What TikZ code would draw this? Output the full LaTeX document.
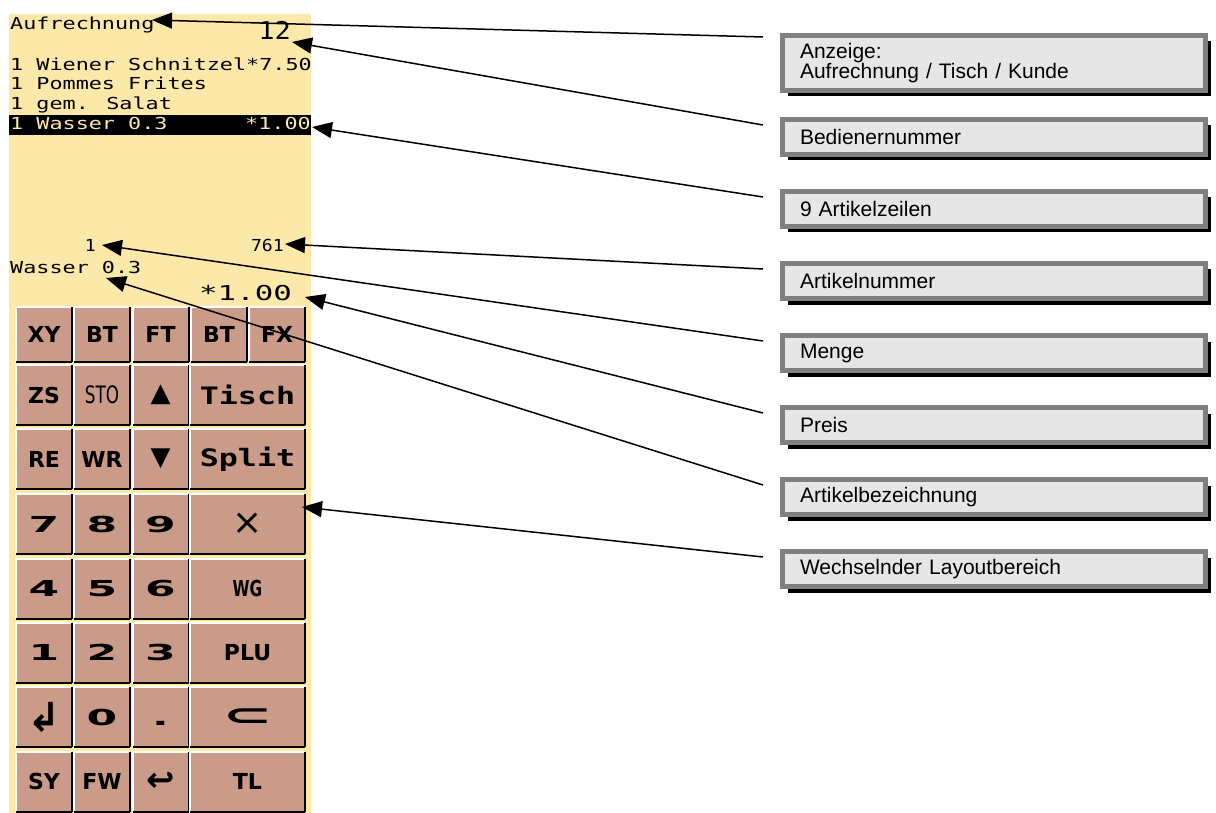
\documentclass[tikz,border=0pt]{standalone}
\usepackage{fontspec}
\setmainfont{Liberation Sans}
\newfontfamily\lcd[FakeStretch=1.32]{DejaVu Sans Mono}
\newfontfamily\lcdtall[FakeStretch=1.1]{DejaVu Sans Mono}
\newfontfamily\lcdbig[FakeStretch=1.5]{DejaVu Sans Mono}
\newfontfamily\keysans{DejaVu Sans}
\newfontfamily\keynarrow[FakeStretch=0.7]{DejaVu Sans}
\newfontfamily\keywide[FakeStretch=2]{DejaVu Sans}
\usetikzlibrary{arrows.meta}
\usetikzlibrary{shadows}
\definecolor{lcdyellow}{HTML}{FCE9A9}
\definecolor{keybrown}{HTML}{C99B88}
\definecolor{boxgray}{HTML}{808080}
\definecolor{boxfill}{HTML}{E6E6E6}
\tikzset{
  lcdtext/.style={inner sep=0pt, font={\lcd\fontsize{16.5}{16.5}\selectfont}},
  key/.style={fill=keybrown, inner sep=0pt, outer sep=0pt, minimum width=56, minimum height=60,
    font={\keysans\bfseries\fontsize{22}{22}\selectfont},
    append after command={
      (\tikzlastnode.south west) edge[draw=white, line width=2] (\tikzlastnode.north west)
      (\tikzlastnode.north west) edge[draw=white, line width=2] (\tikzlastnode.north east)
      (\tikzlastnode.north east) edge[draw=black, line width=2] (\tikzlastnode.south east)
      (\tikzlastnode.south east) edge[draw=black, line width=2] (\tikzlastnode.south west)}},
  wide/.style={minimum width=115},
  digit/.style={font={\keywide\bfseries\fontsize{22}{22}\selectfont}},
  narrow/.style={font={\keynarrow\fontsize{24}{24}\selectfont}},
  narrowbold/.style={font={\keynarrow\bfseries\fontsize{22}{22}\selectfont}},
  lcdkey/.style={font={\lcd\bfseries\fontsize{24}{24}\selectfont}},
  sym/.style={font={\keysans\fontsize{#1}{#1}\selectfont}},
  symbold/.style={font={\keysans\bfseries\fontsize{#1}{#1}\selectfont}},
  lbl/.style={draw=boxgray, line width=5, fill=boxfill, minimum width=423, minimum height=35,
    text width=388, inner xsep=17.5, align=left, font=\fontsize{21}{20}\selectfont,
    drop shadow={shadow xshift=5pt, shadow yshift=-6pt, fill=black, opacity=1}},
  pointer/.style={-{Triangle[length=20pt,width=16pt]}, line width=1.5},
}
\begin{document}
\begin{tikzpicture}[x=1pt, y=-1pt]
    \useasboundingbox (0,0) rectangle (1216,813);
    \fill[lcdyellow] (9,14) rectangle (311,813);
    \fill[black] (9,115) rectangle (311,135);

    \begin{scope}[every node/.style={lcdtext}]
      \node[anchor=base west] (auf) at (10,30) {Aufrechnung};
      \node[anchor=base east, font={\lcdtall\fontsize{24.5}{24.5}\selectfont}] (bnr) at (291,40) {12};
      \node[anchor=base west] (zl1) at (10,71) {1 Wiener Schnitzel*7.50};
      \node[anchor=base west] (zl2) at (10,90) {1 Pommes Frites};
      \node[anchor=base west] (zl3) at (10,110) {1 gem. Salat};
      \node[anchor=base west, text=lcdyellow] (zl4) at (10,130) {1 Wasser 0.3};
      \node[anchor=base east, text=lcdyellow] (zl4p) at (311,130) {*1.00};
      \node[anchor=base east, font={\lcdtall\fontsize{16.5}{16.5}\selectfont}] (mng) at (96,252) {1};
      \node[anchor=base east, font={\lcdtall\fontsize{16.5}{16.5}\selectfont}] (anr) at (284,252) {761};
      \node[anchor=base west] (bez) at (10,273) {Wasser 0.3};
      \node[anchor=base east, font={\lcdbig\fontsize{20.5}{20.5}\selectfont}] (prs) at (292,300) {*1.00};
    \end{scope}

    \node[key, minimum height=55] (kxy) at (44,334.5) {XY};
    \node[key, minimum height=55] (kbt) at (102,334.5) {BT};
    \node[key, minimum height=55] (kft) at (160.5,334.5) {FT};
    \node[key, minimum height=55] (kbtb) at (219,334.5) {BT};
    \node[key, minimum height=55] (kfx) at (277,334.5) {FX};

    \node[key] (kzs) at (44,395) {ZS};
    \node[key, narrow] (ksto) at (102,395) {STO};
    \node[key, sym=26] (kup) at (160.5,395) {▲};
    \node[key, wide, lcdkey] (ktisch) at (247.5,395) {Tisch};

    \node[key] (kre) at (44,459) {RE};
    \node[key] (kwr) at (102,459) {WR};
    \node[key, sym=26] (kdown) at (160.5,459) {▼};
    \node[key, wide, lcdkey] (ksplit) at (247.5,459) {Split};

    \node[key, digit] (k7) at (44,524) {7};
    \node[key, digit] (k8) at (102,524) {8};
    \node[key, digit] (k9) at (160.5,524) {9};
    \node[key, wide, sym=36] (kmal) at (247.5,524) {×};

    \node[key, digit] (k4) at (44,588.5) {4};
    \node[key, digit] (k5) at (102,588.5) {5};
    \node[key, digit] (k6) at (160.5,588.5) {6};
    \node[key, wide, narrowbold] (kwg) at (247.5,588.5) {WG};

    \node[key, digit] (k1) at (44,652.5) {1};
    \node[key, digit] (k2) at (102,652.5) {2};
    \node[key, digit] (k3) at (160.5,652.5) {3};
    \node[key, wide] (kplu) at (247.5,652.5) {PLU};

    \node[key, symbold=40] (kenter) at (44,717) {↲};
    \node[key, digit] (k0) at (102,717) {0};
    \node[key, digit] (kpkt) at (160.5,717) {\vphantom{0}.};
    \node[key, wide, digit, font={\keywide\bfseries\fontsize{30}{30}\selectfont}] (kclr) at (247.5,717) {⊂};

    \node[key] (ksy) at (44,781.5) {SY};
    \node[key] (kfw) at (102,781.5) {FW};
    \node[key, symbold=34] (kback) at (160.5,781.5) {↩};
    \node[key, wide] (ktl) at (247.5,781.5) {TL};

    \node[lbl, minimum height=55] (lanz) at (994,63) {Anzeige:\\Aufrechnung / Tisch / Kunde};
    \node[lbl] (lbed) at (994,137) {Bedienernummer};
    \node[lbl] (lzei) at (994,209) {9 Artikelzeilen};
    \node[lbl] (lanr) at (994,281) {Artikelnummer};
    \node[lbl] (lmng) at (994,353) {Menge};
    \node[lbl] (lprs) at (994,425) {Preis};
    \node[lbl] (lbez) at (994,497) {Artikelbezeichnung};
    \node[lbl] (llay) at (994,569) {Wechselnder Layoutbereich};

    \coordinate (tanz) at (763,37);
    \coordinate (tbed) at (763,125);
    \coordinate (tzei) at (763,197);
    \coordinate (tanr) at (763,269);
    \coordinate (tmng) at (763,341);
    \coordinate (tprs) at (763,413);
    \coordinate (tbez) at (763,485);
    \coordinate (tlay) at (763,557);

    \coordinate (panz) at (152,20);
    \coordinate (pbed) at (292,42);
    \coordinate (pzei) at (312,127);
    \coordinate (panr) at (285,244);
    \coordinate (pmng) at (102,245);
    \coordinate (pprs) at (305,297);
    \coordinate (pbez) at (106,278);
    \coordinate (play) at (302,507);

    \draw[pointer] (tanz) -- (panz);
    \draw[pointer] (tbed) -- (pbed);
    \draw[pointer] (tzei) -- (pzei);
    \draw[pointer] (tanr) -- (panr);
    \draw[pointer] (tmng) -- (pmng);
    \draw[pointer] (tprs) -- (pprs);
    \draw[pointer] (tbez) -- (pbez);
    \draw[pointer] (tlay) -- (play);
\end{tikzpicture}
\end{document}
